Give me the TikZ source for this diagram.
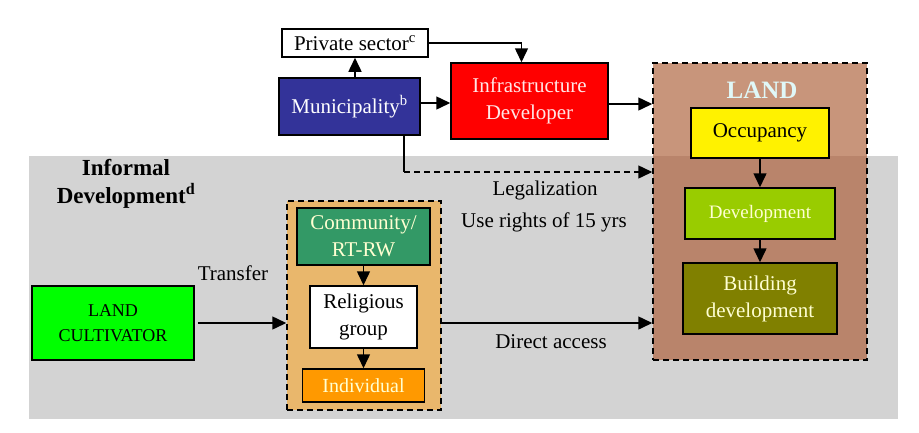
\documentclass[tikz,border=0pt]{standalone}
\usepackage{fontspec}
\setmainfont{Liberation Serif}
\usetikzlibrary{arrows.meta}

\definecolor{bggray}{RGB}{211,211,211}
\definecolor{landtop}{RGB}{200,149,123}
\definecolor{landlow}{RGB}{185,132,107}
\definecolor{muniblue}{RGB}{51,51,153}
\definecolor{devgreen}{RGB}{153,204,0}
\definecolor{bldolive}{RGB}{128,128,0}
\definecolor{commgreen}{RGB}{51,153,102}
\definecolor{indorange}{RGB}{255,153,0}
\definecolor{grporange}{RGB}{233,183,108}
\definecolor{landtitle}{RGB}{224,248,248}
\definecolor{lighttext}{RGB}{255,255,210}
\definecolor{infratext}{RGB}{255,230,230}

\tikzset{
    box/.style={draw, line width=1.5pt, align=center, inner sep=0pt,
        font=\fontsize{21}{27}\selectfont},
    dashbox/.style={draw, line width=1.5pt, dash pattern=on 6pt off 4pt,
        inner sep=0pt},
    lbl/.style={align=center, font=\fontsize{21}{27}\selectfont},
}

\begin{document}
\begin{tikzpicture}
    [>={Triangle[length=14pt,width=13pt]},
    x=1pt, y=-1pt,
    line width=1.5pt]

    \useasboundingbox (0,0) rectangle (919,432);

    % Hintergrund
    \fill[bggray] (29,156) rectangle (898,419);
    \fill[landtop] (653,63) rectangle (867,156);
    \fill[landlow] (653,156) rectangle (867,360);

    \node[dashbox, minimum width=214pt, minimum height=297pt] (land) at (760,211.5) {};
    \node[dashbox, fill=grporange, minimum width=154pt, minimum height=209pt] (grp) at (364,305.5) {};

    \node[box, fill=white, minimum width=146pt, minimum height=28pt] (priv) at (355,43) {Private sector\textsuperscript{c}};
    \node[box, fill=muniblue, text=white, minimum width=141pt, minimum height=57pt] (muni) at (349.5,106.5) {Municipality\textsuperscript{b}};
    \node[box, fill=red, text=infratext, minimum width=157pt, minimum height=76pt] (infra) at (529.5,101) {Infrastructure\\Developer};

    \node[font=\fontsize{25}{30}\selectfont\bfseries, text=landtitle] (landlbl) at (762,90) {LAND};
    \node[box, fill=yellow, minimum width=138pt, minimum height=50pt] (occ) at (760,133) {Occupancy};
    \node[box, fill=devgreen, text=lighttext, minimum width=150pt, minimum height=51pt,
        font=\fontsize{19}{24}\selectfont] (dev) at (760,213.5) {Development};
    \node[box, fill=bldolive, text=lighttext, minimum width=154pt, minimum height=71pt] (bld) at (760,298.5) {Building\\development};

    \node[box, fill=commgreen, text=lighttext, minimum width=133pt, minimum height=57pt] (comm) at (363.5,236.5) {Community/\\RT-RW};
    \node[box, fill=white, minimum width=107pt, minimum height=62pt] (rel) at (363.5,317) {Religious\\group};
    \node[box, fill=indorange, text=lighttext, minimum width=122pt, minimum height=33pt,
        font=\fontsize{20}{24}\selectfont] (ind) at (363.5,385.5) {Individual};

    \node[box, fill=green, minimum width=162pt, minimum height=74pt,
        font=\fontsize{18}{25}\selectfont] (cult) at (113,323) {LAND\\CULTIVATOR};

    \node[lbl, font=\fontsize{23}{28}\selectfont\bfseries] (informal) at (126,184) {Informal\\Development\textsuperscript{d}};
    \node[lbl] (transfer) at (233,273) {Transfer};
    \node[lbl] (legal) at (545,190) {Legalization};
    \node[lbl] (rights) at (544,222) {Use rights of 15 yrs};
    \node[lbl] (direct) at (551,342) {Direct access};

    \coordinate (bend) at (404,172);

    \draw[->] (muni.north -| priv.south) -- (priv.south);
    \draw[->] (priv.east) -| ([xshift=-8pt]infra.north);
    \draw[->] (muni.east |- 0,103) -- (infra.west |- 0,103);
    \draw[->] (infra.east |- 0,104) -- (land.west |- 0,104);
    \draw (muni.south -| bend) -- (bend);
    \draw[->, dash pattern=on 6pt off 4pt] (bend) -- (bend -| land.west);

    \draw[->] (occ.south) -- (dev.north);
    \draw[->] (dev.south) -- (bld.north);
    \draw[->] (comm.south) -- (rel.north);
    \draw[->] (rel.south) -- (ind.north);

    \draw[->] ([xshift=3pt]cult.east) -- (grp.west |- cult.east);
    \draw[->] (grp.east |- cult.east) -- (land.west |- cult.east);
\end{tikzpicture}
\end{document}
